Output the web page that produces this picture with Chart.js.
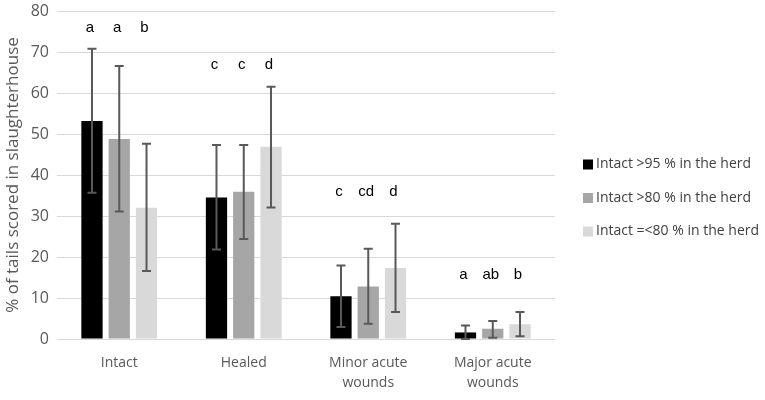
<!DOCTYPE html>
<html>
<head>
<meta charset="utf-8">
<script src="https://cdn.jsdelivr.net/npm/chart.js@4"></script>
<style>
html,body{margin:0;padding:0;background:#fff;}
#wrap{width:765px;height:400px;position:relative;}
</style>
</head>
<body>
<div id="wrap"><canvas id="c"></canvas></div>
<script>
// ---- data ----
const categories = ['Intact', 'Healed', ['Minor acute', 'wounds'], ['Major acute', 'wounds']];
const seriesLabels = ['Intact >95 % in the herd', 'Intact >80 % in the herd', 'Intact =<80 % in the herd'];
const means95 = [53.2, 34.5, 10.4, 1.6];
const means80 = [48.8, 35.9, 12.8, 2.5];
const meansLE80 = [32.0, 46.9, 17.3, 3.6];
const upper95 = [70.8, 47.3, 17.9, 3.3];
const lower95 = [35.7, 21.8, 2.9, 0.0];
const upper80 = [66.6, 47.3, 22.0, 4.4];
const lower80 = [31.1, 24.4, 3.7, 0.3];
const upperLE80 = [47.6, 61.5, 28.1, 6.6];
const lowerLE80 = [16.6, 32.1, 6.6, 0.7];
const letters95 = ['a', 'c', 'c', 'a'];
const letters80 = ['a', 'c', 'cd', 'ab'];
const lettersLE80 = ['b', 'd', 'd', 'b'];
const letterLevels = [76, 66.8, 36, 15.6];
const yTicks = [0, 10, 20, 30, 40, 50, 60, 70, 80];

const colors = ['#000000', '#a6a6a6', '#d9d9d9'];
const errHi = [upper95, upper80, upperLE80];
const errLo = [lower95, lower80, lowerLE80];
const letterSets = [letters95, letters80, lettersLE80];
const textGrey = '#595959';
const baseFont = "'Open Sans', 'DejaVu Sans', sans-serif";

const extrasPlugin = {
  id: 'extras',
  afterDatasetsDraw(chart) {
    const ctx = chart.ctx;
    const y = chart.scales.y;
    ctx.save();
    // error bars
    chart.data.datasets.forEach((ds, di) => {
      const meta = chart.getDatasetMeta(di);
      meta.data.forEach((bar, i) => {
        const x = bar.x;
        const yHi = y.getPixelForValue(errHi[di][i]);
        const yLo = y.getPixelForValue(errLo[di][i]);
        ctx.strokeStyle = '#595959';
        ctx.lineWidth = 2;
        ctx.beginPath();
        ctx.moveTo(x, yHi); ctx.lineTo(x, yLo);
        ctx.moveTo(x - 4.5, yHi); ctx.lineTo(x + 4.5, yHi);
        ctx.moveTo(x - 4.5, yLo); ctx.lineTo(x + 4.5, yLo);
        ctx.stroke();
        // letters
        ctx.fillStyle = '#000';
        ctx.font = "15px 'Liberation Sans', Arial, sans-serif";
        ctx.textAlign = 'center';
        ctx.textBaseline = 'middle';
        ctx.fillText(letterSets[di][i], x - 2, y.getPixelForValue(letterLevels[i]));
      });
    });
    // legend
    const itemGap = 33.5;
    const cy = chart.height / 2 - 2;
    const lx = 583;
    ctx.font = "14px " + baseFont;
    ctx.textAlign = 'left';
    ctx.textBaseline = 'middle';
    seriesLabels.forEach((lab, k) => {
      const yy = cy + (k - 1) * itemGap;
      ctx.fillStyle = colors[k];
      ctx.fillRect(lx, yy - 5, 10, 10);
      ctx.fillStyle = '#404040';
      ctx.fillText(lab, lx + 13, yy);
    });
    ctx.restore();
  }
};

new Chart(document.getElementById('c'), {
  type: 'bar',
  data: {
    labels: categories,
    datasets: [
      { label: seriesLabels[0], data: means95, backgroundColor: colors[0] },
      { label: seriesLabels[1], data: means80, backgroundColor: colors[1] },
      { label: seriesLabels[2], data: meansLE80, backgroundColor: colors[2] }
    ]
  },
  options: {
    responsive: true,
    maintainAspectRatio: false,
    animation: false,
    datasets: { bar: { categoryPercentage: 0.657, barPercentage: 0.78 } },
    layout: { padding: { top: 11, right: 210, left: 3, bottom: 0 } },
    plugins: { legend: { display: false }, tooltip: { enabled: false } },
    scales: {
      x: {
        grid: { display: false, drawTicks: false },
        border: { display: false },
        ticks: { color: textGrey, font: { family: baseFont, size: 14, lineHeight: 1.43 }, padding: 14, maxRotation: 0, autoSkip: false },
        afterFit(s) { s.height = 61; s.paddingLeft = 0; s.paddingRight = 0; }
      },
      y: {
        min: 0, max: 80,
        afterBuildTicks(s) { s.ticks = yTicks.map(v => ({ value: v })); },
        grid: { color: '#d9d9d9', lineWidth: 1, drawTicks: false },
        border: { display: false },
        ticks: { color: textGrey, font: { family: baseFont, size: 16 }, padding: 8 },
        title: { display: true, text: '% of tails scored in slaughterhouse', color: textGrey, font: { family: baseFont, size: 17 }, padding: { top: 0, bottom: 0 } },
        afterFit(s) { s.width = 54; s.paddingTop = 0; s.paddingBottom = 0; }
      }
    }
  },
  plugins: [extrasPlugin]
});
</script>
</body>
</html>
